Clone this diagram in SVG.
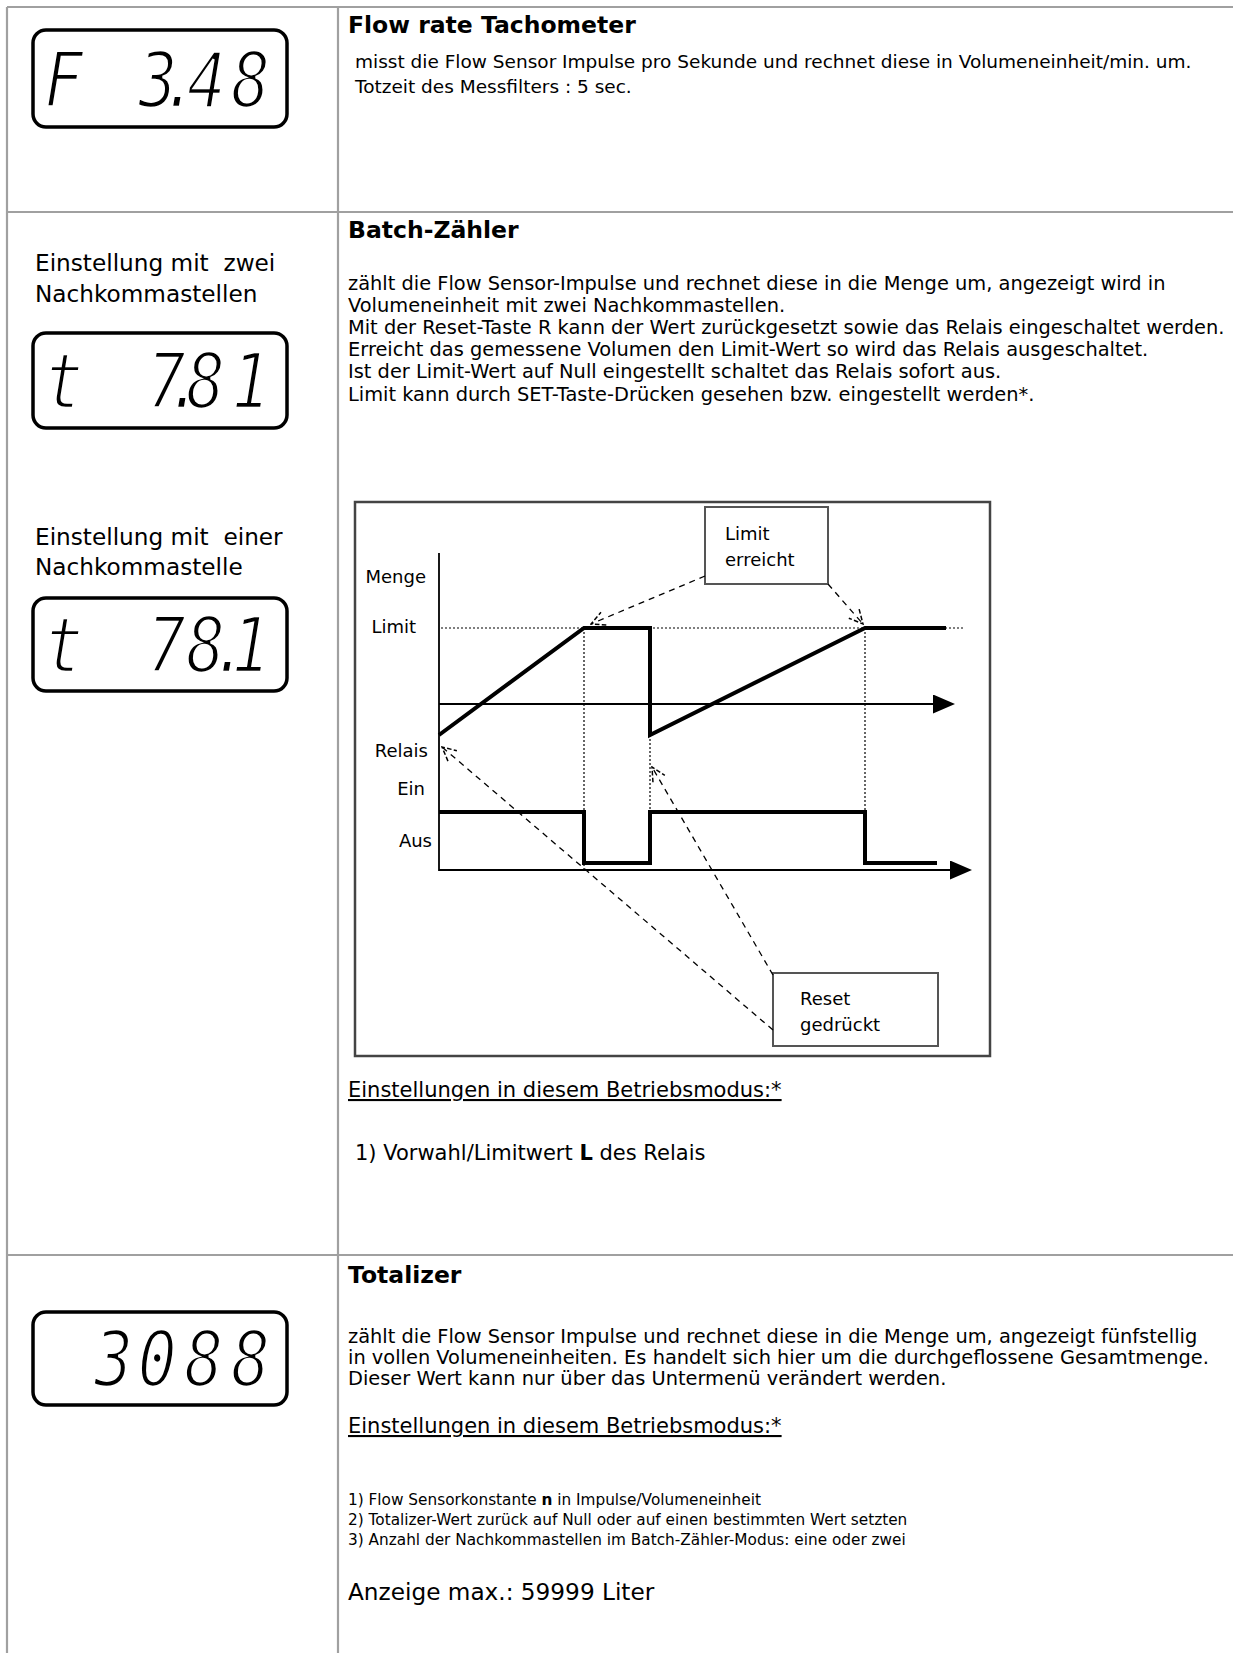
<svg xmlns="http://www.w3.org/2000/svg" width="1233" height="1653" viewBox="0 0 1233 1653">
<defs>
<style>
.grid{stroke:#a0a0a0;stroke-width:2.2;fill:none}
.title{font-family:"DejaVu Sans",sans-serif;font-weight:bold;font-size:23.5px;fill:#000}
.body1{font-family:"DejaVu Sans",sans-serif;font-size:18.5px;fill:#000}
.body{font-family:"DejaVu Sans",sans-serif;font-size:19.4px;fill:#000}
.big{font-family:"DejaVu Sans",sans-serif;font-size:21px;fill:#000}
.left{font-family:"DejaVu Sans",sans-serif;font-size:23.2px;fill:#000}
.small{font-family:"DejaVu Sans",sans-serif;font-size:15.3px;fill:#000}
.lcdbox{fill:#fff;stroke:#000;stroke-width:3.5}
.lcd{font-family:"DejaVu Sans Mono",monospace;font-style:oblique;font-size:76px;fill:#000;stroke:#fff;stroke-width:2.6}
.lbl{font-family:"DejaVu Sans",sans-serif;font-size:18px;fill:#000}
.lblr{font-family:"DejaVu Sans",sans-serif;font-size:18px;fill:#000;text-anchor:end}
.thick{stroke:#000;stroke-width:4;fill:none}
.axis{stroke:#000;stroke-width:1.8;fill:none}
.dot{stroke:#000;stroke-width:1.2;stroke-dasharray:2,2;fill:none}
.dash{stroke:#000;stroke-width:1.3;stroke-dasharray:6,5;fill:none}
</style>
<marker id="open" viewBox="0 0 14 14" refX="13" refY="7" markerWidth="16" markerHeight="16" markerUnits="userSpaceOnUse" orient="auto">
<path d="M1,1 L13,7 L1,13" fill="none" stroke="#000" stroke-width="1.3" stroke-dasharray="4,2"/>
</marker>
<marker id="fill" viewBox="0 0 22 19" refX="0" refY="9.5" markerWidth="22" markerHeight="19" markerUnits="userSpaceOnUse" orient="auto">
<path d="M0,0 L22,9.5 L0,19 Z" fill="#000"/>
</marker>
</defs>
<rect width="1233" height="1653" fill="#fff"/>

<g id="table">
<line class="grid" x1="7" y1="7" x2="1233" y2="7"/>
<line class="grid" x1="7" y1="212" x2="1233" y2="212"/>
<line class="grid" x1="7" y1="1255" x2="1233" y2="1255"/>
<line class="grid" x1="7" y1="7" x2="7" y2="1653"/>
<line class="grid" x1="338" y1="7" x2="338" y2="1653"/>
</g>

<g id="display-flow">
<rect class="lcdbox" x="33" y="30" width="254" height="97" rx="13"/>
<g transform="scale(0.85,1)">
<text class="lcd" x="52" y="107">F</text>
<text class="lcd" x="163 189 220 272" y="107">3.48</text>
</g>
</g>

<g id="row-flow">
<text class="title" x="348" y="33">Flow rate Tachometer</text>
<text class="body1" x="355" y="68">misst die Flow Sensor Impulse pro Sekunde und rechnet diese in Volumeneinheit/min. um.</text>
<text class="body1" x="355" y="93">Totzeit des Messfilters : 5 sec.</text>
</g>

<g id="left-batch">
<text class="left" x="35" y="271" xml:space="preserve">Einstellung mit  zwei</text>
<text class="left" x="35" y="302">Nachkommastellen</text>
</g>

<g id="display-batch2">
<rect class="lcdbox" x="33" y="333" width="254" height="95" rx="13"/>
<g transform="scale(0.85,1)">
<text class="lcd" x="52" y="408">t</text>
<text class="lcd" x="173 195 219 272" y="408">7.81</text>
</g>
</g>

<g id="left-batch1">
<text class="left" x="35" y="545" xml:space="preserve">Einstellung mit  einer</text>
<text class="left" x="35" y="575">Nachkommastelle</text>
</g>

<g id="display-batch1">
<rect class="lcdbox" x="33" y="598" width="254" height="93" rx="13"/>
<g transform="scale(0.85,1)">
<text class="lcd" x="52" y="672">t</text>
<text class="lcd" x="173 219 248 272" y="672">78.1</text>
</g>
</g>

<g id="row-batch">
<text class="title" x="348" y="238">Batch-Zähler</text>
<text class="body" x="348" y="290">zählt die Flow Sensor-Impulse und rechnet diese in die Menge um, angezeigt wird in</text>
<text class="body" x="348" y="312">Volumeneinheit mit zwei Nachkommastellen.</text>
<text class="body" x="348" y="334">Mit der Reset-Taste R kann der Wert zurückgesetzt sowie das Relais eingeschaltet werden.</text>
<text class="body" x="348" y="356">Erreicht das gemessene Volumen den Limit-Wert so wird das Relais ausgeschaltet.</text>
<text class="body" x="348" y="378">Ist der Limit-Wert auf Null eingestellt schaltet das Relais sofort aus.</text>
<text class="body" x="348" y="401">Limit kann durch SET-Taste-Drücken gesehen bzw. eingestellt werden*.</text>
<text class="big" x="348" y="1097" text-decoration="underline">Einstellungen in diesem Betriebsmodus:*</text>
<text class="big" x="355" y="1160">1) Vorwahl/Limitwert <tspan font-weight="bold">L</tspan> des Relais</text>
</g>

<g id="chart">
<rect x="355" y="502" width="635" height="554" fill="#fff" stroke="#444" stroke-width="2.5"/>
<text class="lblr" x="426" y="583">Menge</text>
<text class="lblr" x="416" y="633">Limit</text>
<text class="lblr" x="428" y="757">Relais</text>
<text class="lblr" x="425" y="795">Ein</text>
<text class="lblr" x="432" y="847">Aus</text>
<line class="dot" x1="441" y1="628" x2="965" y2="628"/>
<line class="dot" x1="584" y1="628" x2="584" y2="870"/>
<line class="dot" x1="650" y1="735" x2="650" y2="812"/>
<line class="dot" x1="865" y1="628" x2="865" y2="812"/>
<line class="axis" x1="439" y1="553" x2="439" y2="871"/>
<line class="axis" x1="439" y1="704" x2="933" y2="704" marker-end="url(#fill)"/>
<line class="axis" x1="439" y1="870" x2="950" y2="870" marker-end="url(#fill)"/>
<path class="thick" d="M439,735 L584,628 L650,628 L650,735 L865,628 L946,628"/>
<path class="thick" d="M439,812 L584,812 L584,863 L650,863 L650,812 L865,812 L865,863 L937,863"/>
</g>

<g id="box-limit">
<rect x="705" y="507" width="123" height="77" fill="#fff" stroke="#555" stroke-width="2"/>
<text class="lbl" x="725" y="540">Limit</text>
<text class="lbl" x="725" y="566">erreicht</text>
</g>

<g id="box-reset">
<rect x="773" y="973" width="165" height="73" fill="#fff" stroke="#555" stroke-width="2"/>
<text class="lbl" x="800" y="1005">Reset</text>
<text class="lbl" x="800" y="1031">gedrückt</text>
</g>

<g id="connectors">
<line class="dash" x1="705" y1="576" x2="591" y2="624" marker-end="url(#open)"/>
<line class="dash" x1="828" y1="584" x2="863" y2="624" marker-end="url(#open)"/>
<line class="dash" x1="773" y1="975" x2="652" y2="767" marker-end="url(#open)"/>
<line class="dash" x1="773" y1="1030" x2="442" y2="747" marker-end="url(#open)"/>
</g>

<g id="display-total">
<rect class="lcdbox" x="33" y="1312" width="254" height="93" rx="13"/>
<g transform="scale(0.85,1)">
<text class="lcd" x="111 162 217 272" y="1386">3088</text>
</g>
</g>

<g id="row-total">
<text class="title" x="348" y="1283">Totalizer</text>
<text class="body" x="348" y="1343">zählt die Flow Sensor Impulse und rechnet diese in die Menge um, angezeigt fünfstellig</text>
<text class="body" x="348" y="1364">in vollen Volumeneinheiten. Es handelt sich hier um die durchgeflossene Gesamtmenge.</text>
<text class="body" x="348" y="1385">Dieser Wert kann nur über das Untermenü verändert werden.</text>
<text class="big" x="348" y="1433" text-decoration="underline">Einstellungen in diesem Betriebsmodus:*</text>
<text class="small" x="348" y="1505">1) Flow Sensorkonstante <tspan font-weight="bold">n</tspan> in Impulse/Volumeneinheit</text>
<text class="small" x="348" y="1525">2) Totalizer-Wert zurück auf Null oder auf einen bestimmten Wert setzten</text>
<text class="small" x="348" y="1545">3) Anzahl der Nachkommastellen im Batch-Zähler-Modus: eine oder zwei</text>
<text class="left" x="348" y="1600">Anzeige max.: 59999 Liter</text>
</g>
</svg>
